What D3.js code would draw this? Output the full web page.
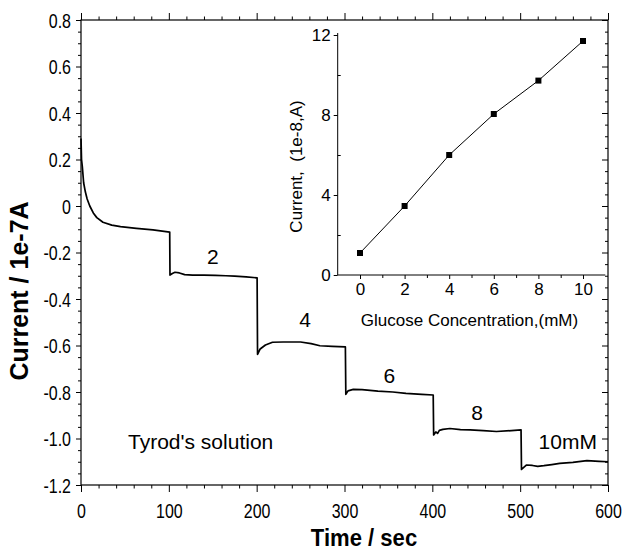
<!DOCTYPE html>
<html><head><meta charset="utf-8">
<script src="https://cdn.jsdelivr.net/npm/d3@7"></script>
<style>body{margin:0;background:#fff}svg{display:block}text{font-family:"Liberation Sans",Arial,sans-serif;fill:#000}</style>
</head><body>
<svg id="c" width="624" height="552"></svg>
<script>
// Main trace: time (s) and current (1e-7 A)
const timeSec = [0,0.6,1.5,3,5,7,10,14,18,25,35,45,63,82,101,
  101.3,104,107,112,118,127,140,153,165,175,188,200.5,
  201,204,210,218,230,250,262,272,286,301,
  301.5,304,310,320,338,355,370,388,401,
  401.5,404,406,408,412,420,432,443,458,473,490,501,
  501.5,507,514,520,527,536,545,560,576,590,600];
const currentA = [0.29,0.2,0.17,0.1,0.06,0.03,0.0,-0.03,-0.05,-0.07,-0.082,-0.089,-0.096,-0.103,-0.112,
  -0.297,-0.29,-0.285,-0.288,-0.295,-0.297,-0.297,-0.298,-0.3,-0.302,-0.305,-0.309,
  -0.638,-0.615,-0.598,-0.586,-0.585,-0.585,-0.592,-0.601,-0.604,-0.606,
  -0.81,-0.795,-0.789,-0.79,-0.796,-0.8,-0.806,-0.81,-0.813,
  -0.985,-0.972,-0.978,-0.965,-0.961,-0.957,-0.962,-0.963,-0.966,-0.97,-0.966,-0.963,
  -1.133,-1.114,-1.116,-1.12,-1.117,-1.112,-1.107,-1.103,-1.095,-1.098,-1.1];
// Step labels
const stepLabels = ["2","4","6","8","10mM"];
const stepLabelT = [150,255,351,451,521];
const stepLabelV = [-0.249,-0.52,-0.763,-0.92,-1.044];
// Main axis ticks
const xTicks = [0,100,200,300,400,500,600];
const yTicks = [0.8,0.6,0.4,0.2,0,-0.2,-0.4,-0.6,-0.8,-1.0,-1.2];
const yTickLabels = ["0.8","0.6","0.4","0.2","0","-0.2","-0.4","-0.6","-0.8","-1.0","-1.2"];
// Inset calibration data
const glucose = [0,2,4,6,8,10];
const insetCurrent = [1.1,3.45,6.0,8.05,9.72,11.7];
const insetXTicks = [0,2,4,6,8,10];
const insetYTicks = [0,4,8,12];

const svg = d3.select("#c");
const M = {l:81, r:608, t:20, b:485};
const x = d3.scaleLinear().domain([0,600]).range([M.l,M.r]);
const y = d3.scaleLinear().domain([-1.2,0.8]).range([M.b,M.t]);
const NX = 0.82; // narrow tick font

function styleAxis(g){ g.selectAll("path.domain").remove(); g.selectAll("line").attr("stroke","#000").attr("stroke-width",1); }

// minor ticks main
const minorX = d3.range(0,601,20).filter(v=>v%100!==0);
const minorY = d3.range(-1.2,0.801,0.05).map(v=>+v.toFixed(2)).filter(v=>Math.abs(Math.round(v*5)-v*5)>1e-6);

svg.append("g").attr("transform",`translate(0,${M.b})`).call(d3.axisBottom(x).tickValues(minorX).tickSize(3.5).tickFormat("")).call(styleAxis);
svg.append("g").attr("transform",`translate(0,${M.t})`).call(d3.axisTop(x).tickValues(minorX).tickSize(3.5).tickFormat("")).call(styleAxis);
svg.append("g").attr("transform",`translate(0,${M.t})`).call(d3.axisTop(x).tickValues(xTicks).tickSize(7).tickFormat("")).call(styleAxis);
svg.append("g").attr("transform",`translate(${M.l},0)`).call(d3.axisLeft(y).tickValues(minorY).tickSize(3).tickFormat("")).call(styleAxis);
svg.append("g").attr("transform",`translate(${M.r},0)`).call(d3.axisLeft(y).tickValues(minorY).tickSize(3).tickFormat("")).call(styleAxis);
svg.append("g").attr("transform",`translate(${M.r},0)`).call(d3.axisLeft(y).tickValues(yTicks).tickSize(6).tickFormat("")).call(styleAxis);

const gx = svg.append("g").attr("transform",`translate(0,${M.b})`).call(d3.axisBottom(x).tickValues(xTicks).tickSize(7).tickFormat(d3.format("d"))).call(styleAxis);
gx.selectAll("text").attr("y",0).attr("dy",0).attr("font-size",19.5).attr("font-family",null)
  .attr("transform",`translate(0,32.5) scale(${NX},1)`);
const gy = svg.append("g").attr("transform",`translate(${M.l},0)`).call(d3.axisLeft(y).tickValues(yTicks).tickSize(5).tickFormat((d,i)=>yTickLabels[i])).call(styleAxis);
gy.selectAll("text").attr("x",0).attr("dy",0).attr("font-size",19.5).attr("font-family",null)
  .attr("transform",`translate(-10,7) scale(${NX},1)`);

// frame
svg.append("rect").attr("x",M.l).attr("y",M.t).attr("width",M.r-M.l).attr("height",M.b-M.t)
  .attr("fill","none").attr("stroke","#000").attr("stroke-width",1.2);

// main trace
const pts = timeSec.map((t,i)=>[t,currentA[i]]);
svg.append("path").datum(pts).attr("fill","none").attr("stroke","#000").attr("stroke-width",1.7)
  .attr("stroke-linejoin","round")
  .attr("d",d3.line().x(d=>x(d[0])).y(d=>y(d[1])));

// step labels
stepLabels.forEach((s,i)=>{
  svg.append("text").attr("x",x(stepLabelT[i])).attr("y",y(stepLabelV[i]))
    .attr("text-anchor", i===4?"start":"middle").attr("font-size",21).text(s);
});
svg.append("text").attr("x",128).attr("y",449).attr("font-size",21).text("Tyrod's solution");

// main axis titles
svg.append("text").attr("transform","translate(28,291) rotate(-90)").attr("text-anchor","middle")
  .attr("font-size",25).attr("font-weight","bold").text("Current / 1e-7A");
svg.append("text").attr("transform","translate(364,546) scale(0.92,1)").attr("text-anchor","middle")
  .attr("font-size",24).attr("font-weight","bold").text("Time / sec");

// inset
const ix = d3.scaleLinear().domain([-1,11]).range([337.7,605.3]);
const iy = d3.scaleLinear().domain([0,12]).range([275,35]);
const giy = svg.append("g").attr("transform","translate(337.7,0)")
  .call(d3.axisLeft(iy).tickValues(insetYTicks).tickSize(4).tickPadding(3).tickFormat(d3.format("d")));
giy.select("path.domain").attr("d","M0,275V33").attr("stroke","#000");
giy.selectAll("text").attr("font-size",17).attr("font-family",null);
svg.append("g").attr("transform","translate(337.7,0)")
  .call(d3.axisRight(iy).tickValues([2,6,10]).tickSize(3).tickFormat("")).call(styleAxis);
const gix = svg.append("g").attr("transform","translate(0,275)")
  .call(d3.axisBottom(ix).tickValues(insetXTicks).tickSize(4).tickPadding(4).tickFormat(d3.format("d")));
gix.select("path.domain").attr("d","M337.7,0H605.3").attr("stroke","#000");
gix.selectAll("text").attr("font-size",17).attr("font-family",null);
svg.append("g").attr("transform","translate(0,275)")
  .call(d3.axisBottom(ix).tickValues([1,3,5,7,9]).tickSize(3).tickFormat("")).call(styleAxis);

const ipts = glucose.map((g,i)=>[g,insetCurrent[i]]);
svg.append("path").datum(ipts).attr("fill","none").attr("stroke","#000").attr("stroke-width",1)
  .attr("d",d3.line().x(d=>ix(d[0])).y(d=>iy(d[1])));
svg.selectAll("rect.m").data(ipts).enter().append("rect").attr("class","m")
  .attr("x",d=>ix(d[0])-3).attr("y",d=>iy(d[1])-3).attr("width",6).attr("height",6).attr("fill","#000");

svg.append("text").attr("x",469.5).attr("y",326).attr("text-anchor","middle").attr("font-size",17)
  .text("Glucose Concentration,(mM)");
svg.append("text").attr("transform","translate(302,166.5) rotate(-90)").attr("text-anchor","middle")
  .attr("font-size",17).attr("xml:space","preserve").style("white-space","pre").text("Current,  (1e-8,A)");
</script>
</body></html>
